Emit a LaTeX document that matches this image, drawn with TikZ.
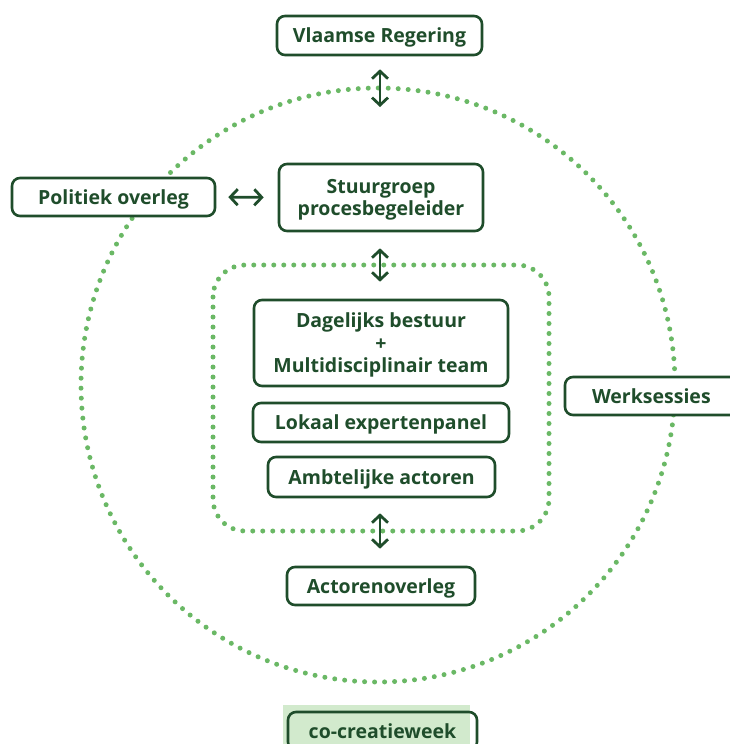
\documentclass[tikz,border=0pt]{standalone}
\usepackage{fontspec}
\setmainfont{Open Sans}[BoldFont={Open Sans Bold}]
\usetikzlibrary{arrows.meta}
\definecolor{dkgreen}{HTML}{1F4D2B}
\definecolor{dotgreen}{HTML}{6AB865}
\definecolor{bggreen}{HTML}{D2EACD}
\tikzset{
  box/.style={draw=dkgreen, line width=2.6pt, rounded corners=8pt, fill=white,
    text=dkgreen, font=\fontsize{19.5}{22.5}\selectfont\bfseries, align=center,
    inner sep=0pt, text depth=0pt},
  dotline/.style={draw=dotgreen, line width=5pt, line cap=round,
    dash pattern=on 0pt off 10pt},
  link/.style={draw=dkgreen, line width=2.8pt,
    {Straight Barb[length=7.5pt,width=16pt]}-{Straight Barb[length=7.5pt,width=16pt]}},
}
\begin{document}
\begin{tikzpicture}[x=1pt,y=-1pt]
\useasboundingbox (0,0) rectangle (730,744);
% dotted circle and rounded rectangle
\draw[dotline] (378,385) circle (297);
\draw[dotline, rounded corners=32pt] (213,265) rectangle (549,531);
% background of co-creatieweek
\fill[bggreen] (283,705) rectangle (470,760);
% nodes
\node[box, minimum width=205pt, minimum height=39pt] (vr) at (379.5,35.5) {Vlaamse Regering};
\node[box, minimum width=203pt, minimum height=38pt] (po) at (113.5,197) {Politiek overleg};
\node[box, minimum width=204pt, minimum height=67pt] (sg) at (381,197.5) {Stuurgroep\\procesbegeleider};
\node[box, minimum width=254pt, minimum height=86pt] (db) at (381,343) {Dagelijks bestuur\\+\\Multidisciplinair team};
\node[box, minimum width=256pt, minimum height=39pt] (le) at (381,422.5) {Lokaal expertenpanel};
\node[box, minimum width=227pt, minimum height=40pt] (aa) at (381.5,477) {Ambtelijke actoren};
\node[box, minimum width=188pt, minimum height=38pt] (ao) at (381,586) {Actorenoverleg};
\node[box, minimum width=180pt, minimum height=38pt, text width=180pt, align=left] (ws) at (655,396) {\hspace{27pt}Werksessies};
\node[box, minimum width=189pt, minimum height=38pt, fill=none] (cc) at (382.5,731) {co-creatieweek};
% connectors
\coordinate (c1) at (380,107);
\draw[link, shorten <=13pt] (vr.south -| c1) -- (c1);
\draw[link, shorten <=12pt, shorten >=14pt] (po.east) -- (sg.west);
\draw[link, shorten <=16pt, shorten >=17pt] (sg.south -| 380,0) -- (db.north -| 380,0);
\draw[link, shorten <=15pt, shorten >=17pt] (aa.south -| 380,0) -- (ao.north -| 380,0);
\end{tikzpicture}
\end{document}
